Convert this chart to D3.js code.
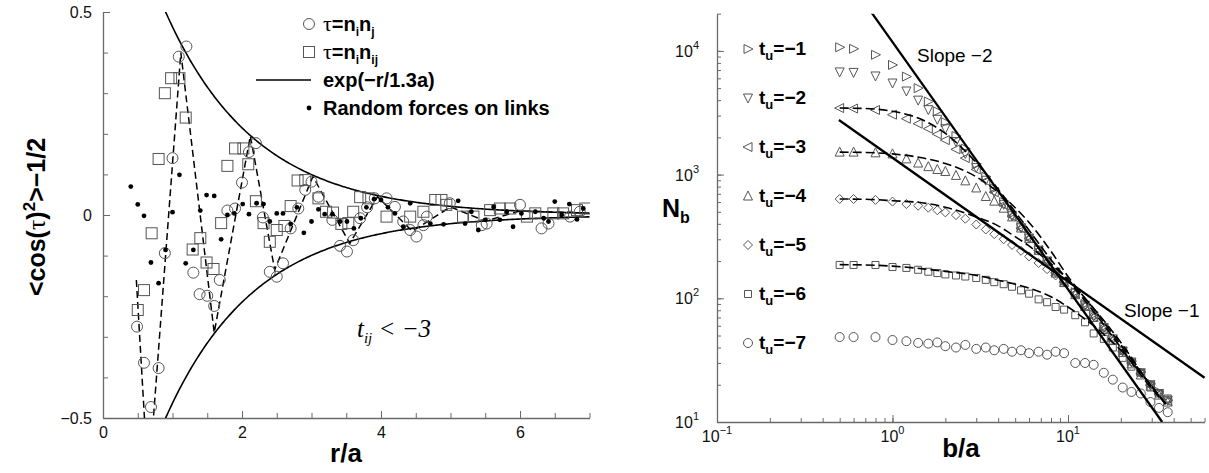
<!DOCTYPE html>
<html><head><meta charset="utf-8">
<script src="https://cdn.jsdelivr.net/npm/d3@7"></script>
<style>body{margin:0;background:#fff}svg{display:block}</style>
</head><body>
<svg id="c" width="1209" height="473"></svg>
<script>
// ---------------- LEFT PANEL DATA ----------------
const circR = [0.49,0.59,0.69,0.80,0.89,1.00,1.09,1.20,1.30,1.39,1.50,1.60,1.68,1.79,1.90,2.00,2.10,2.20,2.30,2.40,2.50,2.59,2.70,2.81,2.91,3.00,3.10,3.30,3.41,3.51,3.60,3.70,3.80,3.91,4.08,4.20,4.32,4.42,4.51,4.61,4.66,4.99,5.45,5.52,6.00,6.31,6.41,6.72,6.86];
const circV = [-0.275,-0.364,-0.473,-0.377,-0.094,0.14,0.39,0.415,-0.142,-0.195,-0.199,-0.224,-0.16,0.011,0.016,0.08,0.155,0.177,-0.006,-0.14,-0.152,-0.119,-0.033,0.016,0.062,0.082,0.045,-0.012,-0.076,-0.09,-0.062,-0.008,0.019,0.041,0.041,0.02,-0.016,-0.037,-0.053,-0.025,-0.004,0.029,-0.025,-0.021,0.025,-0.033,-0.021,-0.004,0.008];
const sqR = [0.50,0.59,0.70,0.80,0.89,0.98,1.10,1.19,1.29,1.40,1.49,1.59,1.70,1.79,1.90,2.02,2.09,2.20,2.31,2.40,2.50,2.61,2.70,2.80,2.91,3.10,3.21,3.31,3.43,3.53,3.60,3.70,3.82,4.08,4.42,4.61,4.78,4.87,4.94,5.18,5.33,5.57,5.71,5.86,6.10,6.22,6.48,6.62,6.82,6.94];
const sqV = [-0.234,-0.185,-0.045,0.138,0.30,0.337,0.337,0.24,-0.085,-0.057,-0.117,-0.133,-0.02,0.121,0.164,0.164,0.125,0.034,-0.02,-0.066,-0.037,-0.027,0.022,0.085,0.086,0.041,0.008,0.006,-0.022,-0.02,0.008,0.044,0.041,-0.004,-0.004,0.008,0.037,0.037,0.025,-0.004,-0.004,0.012,0.016,0.016,-0.004,0.004,0.004,0.004,0.012,0.016];
const dotR = [0.40,0.50,0.59,0.69,0.80,0.90,1.00,1.10,1.19,1.30,1.40,1.49,1.60,1.70,1.79,1.89,2.01,2.10,2.21,2.31,2.40,2.50,2.59,2.70,2.79,2.89,3.00,3.10,3.19,3.30,3.41,3.51,3.61,3.71,3.79,3.90,4.00,4.10,4.20,4.32,4.42,4.71,4.90,5.11,5.21,5.30,5.40,5.50,5.62,5.71,5.81,5.90,6.02,6.22,6.34,6.41,6.50,6.60,6.71,6.82,6.91];
const dotV = [0.07,0.026,-0.002,-0.117,-0.168,-0.086,0.007,0.099,-0.119,-0.086,0.011,0.049,0.047,-0.06,0.0,0.004,0.027,0.002,0.029,0.027,-0.016,0.004,0.004,-0.022,0.019,-0.044,-0.016,0.014,0.002,0.002,-0.016,-0.016,-0.033,-0.008,0.019,0.039,0.037,0.019,0.004,-0.029,0.029,-0.021,-0.023,0.035,-0.021,0.008,-0.037,-0.012,0.02,-0.012,0.008,-0.029,0.004,0.008,-0.008,-0.016,0.033,0.0,0.027,-0.011,0.016];
const zigR = [0.48,0.653,1.12,1.60,2.12,2.47,3.02,3.55,3.95,4.45,5.0,5.5,6.0,7.0];
const zigV = [-0.16,-0.665,0.40,-0.29,0.195,-0.135,0.095,-0.07,0.045,-0.04,0.02,-0.015,0.01,0.005];
const expLength = 1.3;           // exp(-r/1.3a)
const expStart = 0.9, expEnd = 7;
const leftXMajor = [0,2,4,6];
const leftYMajor = [-0.5,0,0.5];

// ---------------- RIGHT PANEL DATA ----------------
const bGrid = [0.5,0.6,0.8,1.0,1.2,1.4,1.6,1.8,2.0,2.3,2.6,3.0,3.4,3.8,4.3,4.8,5.4,6.0,6.8,7.6,8.5,9.5,11,12.5,14,16,18,20.5,23,26,29.5,33,37];
const n1 = [10700,10400,9300,7700,6200,5000,3900,3250,2650,2050,1620,1220,960,770,600,485,385,315,250,203,165,138,112,90,74,59,48,38,31,25.5,20.5,17.5,15];
const n2 = [6760,6700,6270,5500,4740,4000,3350,2800,2350,1850,1480,1140,900,725,575,465,372,306,245,200,162,136,110,88,72,58,47,37.5,30.5,25,20,17,15];
const n3 = [3450,3420,3330,3050,2830,2580,2350,2120,1900,1600,1360,1100,890,720,570,462,368,305,244,199,161,136,109,87,71,57,46,37,30,24.5,19.8,16.8,14.8];
const n4 = [1520,1520,1500,1470,1340,1240,1160,1100,1060,985,890,780,665,610,535,455,370,305,244,199,160,134,107,86,70,56,45.5,36.5,29.5,24,19.5,16.5,14.5];
const n5 = [635,635,624,605,578,560,540,515,495,470,440,395,360,330,300,270,242,218,193,172,153,135,108,88,72,58,47,38,31,25,20,17,15];
const n6 = [186,186,186,179,176,170,164,160,156,153,150,146,141,135,130,124,116,109,98,93,85,81,73,64,52,47,40,33,28,25,19,17,15.5];
const n7 = [48.6,48.6,48.6,46,45,43.6,43,44,41,40,42,39,40,38,39,37,38,36,37,35,37,36,30,30,29,25,22,19,17.5,17,14.5,13,12];
const fitB = [0.5,0.7,1,1.5,2,3,4,5,6,8,10,14,20,28,36];
const fit3 = [3450,3420,3250,2750,2150,1250,760,500,355,205,140,78,40,21,14];
const fit4 = [1520,1510,1470,1360,1230,960,720,540,410,240,150,82,42,22,14];
const fit5 = [635,632,615,590,545,455,385,315,265,190,142,83,44,22,14];
const fit6 = [187,186,182,173,165,153,140,130,121,103,85,60,38,22,14];
const slope2B = [0.76,34.4], slope2N = [20400,10];
const slope1B = [0.495,60], slope1N = [2760,22.8];
const seriesLabels = ["−1","−2","−3","−4","−5","−6","−7"];
const seriesMarkers = ["right","down","left","up","diamond","square","circle"];
const rightXMajor = [0.1,1,10], rightXExp = ["−1","0","1"];
const rightYMajor = [10,100,1000,10000], rightYExp = ["1","2","3","4"];

// ---------------- DRAW ----------------
const svg = d3.select('#c');
const defs = svg.append('defs');
const AX = '#6a6a6a';
const MK = '#555';
const SANS = "'Liberation Sans', Arial, Helvetica, sans-serif";
const SERIF = "'Liberation Serif', 'Times New Roman', serif";

function styleAxis(g){
  g.select('.domain').attr('stroke',AX).attr('stroke-width',1.3);
  g.selectAll('.tick line').attr('stroke',AX).attr('stroke-width',1);
  g.selectAll('.tick text').attr('fill','#111').style('font-family',SANS).style('font-size','16px');
}

// ===== LEFT =====
const xL = d3.scaleLinear().domain([0,7]).range([103,589.5]);
const yL = d3.scaleLinear().domain([-0.5,0.5]).range([418,12]);
defs.append('clipPath').attr('id','clipL').append('rect')
  .attr('x',103).attr('y',12).attr('width',487).attr('height',406);

const gLx1 = svg.append('g').attr('transform','translate(0,418)')
  .call(d3.axisBottom(xL).tickValues(d3.range(0,7.01,0.5)).tickSizeInner(-5).tickSizeOuter(0).tickFormat(''));
styleAxis(gLx1);
const gLx2 = svg.append('g').attr('transform','translate(0,418)')
  .call(d3.axisBottom(xL).tickValues(leftXMajor).tickSizeInner(-7).tickSizeOuter(0).tickPadding(9).tickFormat(d3.format('d')));
styleAxis(gLx2); gLx2.select('.domain').remove();
const gLy1 = svg.append('g').attr('transform','translate(103,0)')
  .call(d3.axisLeft(yL).tickValues(d3.range(-5,6).map(d=>d/10)).tickSizeInner(-5).tickSizeOuter(0).tickFormat(''));
styleAxis(gLy1);
const gLy2 = svg.append('g').attr('transform','translate(103,0)')
  .call(d3.axisLeft(yL).tickValues(leftYMajor).tickSizeInner(-7).tickSizeOuter(0).tickPadding(11).tickFormat(d=> d===0?'0':d3.format('.1f')(d)));
styleAxis(gLy2); gLy2.select('.domain').remove();

const plotL = svg.append('g').attr('clip-path','url(#clipL)');
// exp envelopes
const expR = d3.range(expStart, expEnd+0.0001, 0.02);
const lineL = d3.line().x(d=>xL(d[0])).y(d=>yL(d[1]));
plotL.append('path').attr('d', lineL(expR.map(r=>[r, Math.exp(-r/expLength)])))
  .attr('fill','none').attr('stroke','#000').attr('stroke-width',1.6);
plotL.append('path').attr('d', lineL(expR.map(r=>[r, -Math.exp(-r/expLength)])))
  .attr('fill','none').attr('stroke','#000').attr('stroke-width',1.6);
// dashed zigzag
plotL.append('path').attr('d', lineL(zigR.map((r,i)=>[r,zigV[i]])))
  .attr('fill','none').attr('stroke','#000').attr('stroke-width',1.5).attr('stroke-dasharray','7,4');
// squares
plotL.selectAll('rect.sq').data(sqR.map((r,i)=>[r,sqV[i]])).enter().append('rect')
  .attr('x',d=>xL(d[0])-5.5).attr('y',d=>yL(d[1])-5.5).attr('width',11).attr('height',11)
  .attr('fill','none').attr('stroke',MK).attr('stroke-width',1);
// circles
plotL.selectAll('circle.ci').data(circR.map((r,i)=>[r,circV[i]])).enter().append('circle')
  .attr('cx',d=>xL(d[0])).attr('cy',d=>yL(d[1])).attr('r',5.5)
  .attr('fill','none').attr('stroke',MK).attr('stroke-width',1);
// dots
plotL.selectAll('circle.dt').data(dotR.map((r,i)=>[r,dotV[i]])).enter().append('circle')
  .attr('cx',d=>xL(d[0])).attr('cy',d=>yL(d[1])).attr('r',2.4).attr('fill','#000');

// left legend
const lg = svg.append('g');
lg.append('circle').attr('cx',309).attr('cy',24).attr('r',5.5).attr('fill','none').attr('stroke',MK);
lg.append('rect').attr('x',303.5).attr('y',46.5).attr('width',11).attr('height',11).attr('fill','none').attr('stroke',MK);
lg.append('line').attr('x1',256).attr('x2',311).attr('y1',80).attr('y2',80).attr('stroke','#000').attr('stroke-width',1.6);
lg.append('circle').attr('cx',309).attr('cy',108).attr('r',2.4).attr('fill','#000');
function legText(y){ return lg.append('text').attr('x',323).attr('y',y).style('font-family',SANS).style('font-size','20px').style('font-weight','bold'); }
let t1 = legText(31);
t1.append('tspan').style('font-family',SERIF).style('font-weight','normal').style('font-size','22px').text('τ');
t1.append('tspan').text('=n');
t1.append('tspan').attr('dy',5).style('font-size','12px').text('i');
t1.append('tspan').attr('dy',-5).text('n');
t1.append('tspan').attr('dy',5).style('font-size','12px').text('j');
let t2 = legText(59);
t2.append('tspan').style('font-family',SERIF).style('font-weight','normal').style('font-size','22px').text('τ');
t2.append('tspan').text('=n');
t2.append('tspan').attr('dy',5).style('font-size','12px').text('i');
t2.append('tspan').attr('dy',-5).text('n');
t2.append('tspan').attr('dy',5).style('font-size','12px').text('ij');
legText(87).text('exp(−r/1.3a)');
legText(115).text('Random forces on links');

// annotation t_ij < -3
const ann = svg.append('text').attr('x',357).attr('y',337).style('font-family',SERIF).style('font-style','italic').style('font-size','25px');
ann.append('tspan').text('t');
ann.append('tspan').attr('dy',6).style('font-size','15px').text('ij');
ann.append('tspan').attr('dy',-6).text(' < −3');

// axis titles left
svg.append('text').attr('x',346).attr('y',462).attr('text-anchor','middle')
  .style('font-family',SANS).style('font-weight','bold').style('font-size','26px').text('r/a');
const yt = svg.append('text').attr('transform','translate(45,217) rotate(-90)').attr('text-anchor','middle')
  .style('font-family',SANS).style('font-weight','bold').style('font-size','25px');
yt.append('tspan').text('<cos(');
yt.append('tspan').style('font-family',SERIF).style('font-weight','normal').style('font-size','26px').text('τ');
yt.append('tspan').text(')');
yt.append('tspan').attr('dy',-10).style('font-size','17px').text('2');
yt.append('tspan').attr('dy',10).text('>−1/2');

// ===== RIGHT =====
const xR = d3.scaleLog().domain([0.1,60]).range([717, 717+175.5*Math.log10(600)]);
const yR = d3.scaleLog().domain([10,20000]).range([422, 422-123.7*Math.log10(2000)]);
defs.append('clipPath').attr('id','clipR').append('rect')
  .attr('x',717).attr('y',yR(20000)).attr('width',xR(60)-717+1).attr('height',422-yR(20000));

const minorX = [];
[0.1,1,10].forEach(dec=>{ for(let k=1;k<10;k++){ const v=dec*k; if(v<=60.0001) minorX.push(v);} });
const minorY = [];
[10,100,1000,10000].forEach(dec=>{ for(let k=1;k<10;k++){ const v=dec*k; if(v<=20000) minorY.push(v);} });

const gRx1 = svg.append('g').attr('transform','translate(0,422)')
  .call(d3.axisBottom(xR).tickValues(minorX).tickSizeInner(-4).tickSizeOuter(0).tickFormat(''));
styleAxis(gRx1);
const gRx2 = svg.append('g').attr('transform','translate(0,422)')
  .call(d3.axisBottom(xR).tickValues(rightXMajor).tickSizeInner(-7).tickSizeOuter(0).tickFormat(''));
styleAxis(gRx2); gRx2.select('.domain').remove();
const gRy1 = svg.append('g').attr('transform','translate(717,0)')
  .call(d3.axisLeft(yR).tickValues(minorY).tickSizeInner(-4).tickSizeOuter(0).tickFormat(''));
styleAxis(gRy1);
const gRy2 = svg.append('g').attr('transform','translate(717,0)')
  .call(d3.axisLeft(yR).tickValues(rightYMajor).tickSizeInner(-7).tickSizeOuter(0).tickFormat(''));
styleAxis(gRy2); gRy2.select('.domain').remove();

rightXMajor.forEach((v,i)=>{
  const t = svg.append('text').attr('x',xR(v)).attr('y',442).attr('text-anchor','middle')
    .style('font-family',SANS).style('font-size','16px').attr('fill','#111');
  t.append('tspan').text('10');
  t.append('tspan').attr('dy',-8).style('font-size','11px').text(rightXExp[i]);
});
rightYMajor.forEach((v,i)=>{
  const t = svg.append('text').attr('x',699).attr('y',yR(v)+6).attr('text-anchor','end')
    .style('font-family',SANS).style('font-size','16px').attr('fill','#111');
  t.append('tspan').text('10');
  t.append('tspan').attr('dy',-8).style('font-size','11px').text(rightYExp[i]);
});

function markerPath(type){
  switch(type){
    case 'right': return 'M-4,-4.5L5,0L-4,4.5Z';
    case 'down': return 'M-4.5,-4L4.5,-4L0,5Z';
    case 'left': return 'M4,-4.5L-5,0L4,4.5Z';
    case 'up': return 'M-4.5,4L4.5,4L0,-5Z';
    case 'diamond': return 'M0,-4.5L4.5,0L0,4.5L-4.5,0Z';
    case 'square': return 'M-3.5,-3.5L3.5,-3.5L3.5,3.5L-3.5,3.5Z';
    case 'circle': return 'M4.5,0A4.5,4.5 0 1,1 -4.5,0A4.5,4.5 0 1,1 4.5,0Z';
  }
}

const plotR = svg.append('g').attr('clip-path','url(#clipR)');
const lineR = d3.line().x(d=>xR(d[0])).y(d=>yR(d[1]));
const lineRc = d3.line().x(d=>xR(d[0])).y(d=>yR(d[1])).curve(d3.curveMonotoneX);

const allSeries = [n1,n2,n3,n4,n5,n6,n7];
allSeries.forEach((arr,si)=>{
  plotR.selectAll('path.m'+si).data(bGrid.map((b,i)=>[b,arr[i]])).enter().append('path')
    .attr('transform',d=>`translate(${xR(d[0])},${yR(d[1])})`)
    .attr('d',markerPath(seriesMarkers[si]))
    .attr('fill','none').attr('stroke',MK).attr('stroke-width',1);
});
[fit3,fit4,fit5,fit6].forEach(arr=>{
  plotR.append('path').attr('d',lineRc(fitB.map((b,i)=>[b,arr[i]])))
    .attr('fill','none').attr('stroke','#000').attr('stroke-width',1.6).attr('stroke-dasharray','9,4');
});
plotR.append('path').attr('d',lineR(slope2B.map((b,i)=>[b,slope2N[i]])))
  .attr('fill','none').attr('stroke','#000').attr('stroke-width',2.3);
svg.append('path').attr('d',lineR(slope1B.map((b,i)=>[b,slope1N[i]])))
  .attr('fill','none').attr('stroke','#000').attr('stroke-width',2.3);

svg.append('text').attr('x',917).attr('y',62).style('font-family',SANS).style('font-size','19px').text('Slope −2');
svg.append('text').attr('x',1124).attr('y',317).style('font-family',SANS).style('font-size','19px').text('Slope −1');

// right legend
seriesLabels.forEach((lab,i)=>{
  const cy = 49 + i*49;
  svg.append('path').attr('transform',`translate(748,${cy})`).attr('d',markerPath(seriesMarkers[i]))
    .attr('fill','none').attr('stroke',MK).attr('stroke-width',1);
  const t = svg.append('text').attr('x',759).attr('y',cy+6)
    .style('font-family',SANS).style('font-weight','bold').style('font-size','19px');
  t.append('tspan').text('t');
  t.append('tspan').attr('dy',5).style('font-size','13px').text('u');
  t.append('tspan').attr('dy',-5).text('='+lab);
});

// axis titles right
const nb = svg.append('text').attr('x',662).attr('y',217)
  .style('font-family',SANS).style('font-weight','bold').style('font-size','25px');
nb.append('tspan').text('N');
nb.append('tspan').attr('dy',6).style('font-size','16px').text('b');
svg.append('text').attr('x',961).attr('y',457).attr('text-anchor','middle')
  .style('font-family',SANS).style('font-weight','bold').style('font-size','26px').text('b/a');
</script>
</body></html>
